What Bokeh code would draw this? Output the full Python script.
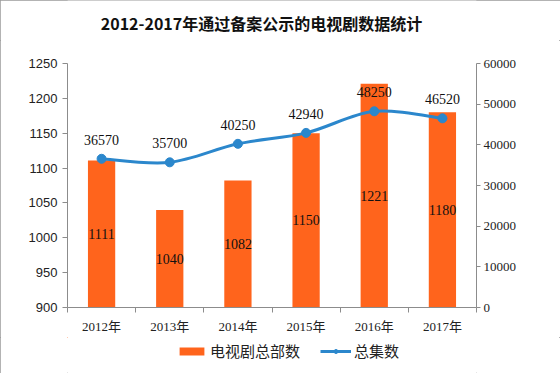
import numpy as np
from bokeh.plotting import figure
from bokeh.layouts import column
from bokeh.models import (Range1d, LinearAxis, FixedTicker, Legend, LegendItem,
                          ColumnDataSource, Label)
from bokeh.core.properties import value
from bokeh.embed import file_html
from bokeh.resources import INLINE

years = ["2012年", "2013年", "2014年", "2015年", "2016年", "2017年"]
series_count = [1111, 1040, 1082, 1150, 1221, 1180]          # 电视剧总部数
series_episodes = [36570, 35700, 40250, 42940, 48250, 46520]  # 总集数
left_ticks = [900, 950, 1000, 1050, 1100, 1150, 1200, 1250]
right_ticks = [0, 10000, 20000, 30000, 40000, 50000, 60000]
title_text = "2012-2017年通过备案公示的电视剧数据统计"
bar_name = "电视剧总部数"
line_name = "总集数"

ORANGE = "#FF641C"
BLUE = "#2B87CC"
AXIS = "#8C8C8C"
SERIF = "Liberation Serif, Noto Sans CJK SC"
CJK = "Noto Sans CJK SC"

n = len(years)
xs = np.arange(n) + 0.5
base = left_ticks[0]


def strip(h):
    f = figure(width=560, height=h, output_backend="svg", toolbar_location=None,
               x_range=Range1d(100, 101), y_range=Range1d(0, 1),
               x_axis_location=None, y_axis_location=None,
               min_border_left=0, min_border_right=0, min_border_top=0, min_border_bottom=0)
    f.grid.visible = False
    f.outline_line_color = None
    f.background_fill_color = "white"
    f.border_fill_color = "white"
    return f


# title strip (its frame is aligned with the main chart's frame, which starts at x=67)
tt = strip(40)
tt.add_layout(Label(x=194, y=18, x_units="screen", y_units="screen", text=title_text,
                    text_align="center", text_baseline="middle", text_font=CJK,
                    text_font_size="16px", text_font_style="bold", text_color="#111111"))

# main chart
p = figure(width=560, height=297, output_backend="svg", toolbar_location=None,
           x_range=Range1d(0, n), y_range=Range1d(left_ticks[0], left_ticks[-1]),
           min_border_left=67, min_border_right=84, min_border_top=23, min_border_bottom=30)
p.extra_y_ranges = {"right": Range1d(right_ticks[0], right_ticks[-1])}
p.outline_line_color = None
p.grid.visible = False
p.background_fill_color = "white"
p.border_fill_color = "white"

# x axis
xa = p.xaxis[0]
xa.ticker = FixedTicker(ticks=list(xs), minor_ticks=list(range(n + 1)))
xa.major_label_overrides = {float(x): y for x, y in zip(xs, years)}
xa.major_tick_out = 0
xa.major_tick_in = 0
xa.minor_tick_out = 5
xa.minor_tick_in = 0
xa.minor_tick_line_color = AXIS
xa.axis_line_color = AXIS
xa.major_label_text_font = SERIF
xa.major_label_text_font_size = "13px"
xa.major_label_text_color = "#222222"
xa.major_label_standoff = 6

# left axis
ya = p.yaxis[0]
ya.ticker = FixedTicker(ticks=left_ticks)
ya.axis_line_color = AXIS
ya.major_tick_line_color = AXIS
ya.major_tick_out = 5
ya.major_tick_in = 0
ya.minor_tick_line_color = None
ya.major_label_text_font = "Liberation Sans"
ya.major_label_text_font_size = "13px"
ya.major_label_text_color = "#222222"
ya.major_label_standoff = 5

# right axis
ra = LinearAxis(y_range_name="right", ticker=FixedTicker(ticks=right_ticks))
ra.axis_line_color = AXIS
ra.major_tick_line_color = AXIS
ra.major_tick_out = 4
ra.major_tick_in = 0
ra.minor_tick_line_color = None
ra.major_label_text_font = SERIF
ra.major_label_text_font_size = "13px"
ra.major_label_text_color = "#222222"
ra.major_label_standoff = 3
p.add_layout(ra, "right")

# bars
bsrc = ColumnDataSource(dict(x=xs, top=series_count,
                             mid=[(v + base) / 2 for v in series_count],
                             lab=[str(v) for v in series_count]))
p.vbar(x="x", top="top", bottom=base, width=0.4, source=bsrc,
       fill_color=ORANGE, line_color=None)
p.text(x="x", y="mid", text="lab", source=bsrc, text_align="center",
       text_baseline="middle", text_font=value(SERIF), text_font_size="14px",
       text_color="#111111")

# smooth line (Catmull-Rom as cubic bezier segments)
ey = np.array(series_episodes, dtype=float)
px = np.concatenate([[xs[0]], xs, [xs[-1]]])
py = np.concatenate([[ey[0]], ey, [ey[-1]]])
t = 1.0 / 6.0
bx0, by0, bx1, by1, c0x, c0y, c1x, c1y = [], [], [], [], [], [], [], []
for i in range(n - 1):
    j = i + 1
    bx0.append(px[j]); by0.append(py[j])
    bx1.append(px[j + 1]); by1.append(py[j + 1])
    c0x.append(px[j] + (px[j + 1] - px[j - 1]) * t)
    c0y.append(py[j] + (py[j + 1] - py[j - 1]) * t)
    c1x.append(px[j + 1] - (px[j + 2] - px[j]) * t)
    c1y.append(py[j + 1] - (py[j + 2] - py[j]) * t)
p.bezier(x0=bx0, y0=by0, x1=bx1, y1=by1, cx0=c0x, cy0=c0y, cx1=c1x, cy1=c1y,
         y_range_name="right", line_color=BLUE, line_width=3)
lsrc = ColumnDataSource(dict(x=xs, y=series_episodes, lab=[str(v) for v in series_episodes]))
p.scatter(x="x", y="y", source=lsrc, y_range_name="right", size=9,
          fill_color=BLUE, line_color=BLUE)
p.text(x="x", y="y", text="lab", source=lsrc, y_range_name="right",
       text_align="center", text_baseline="middle", y_offset=-19,
       text_font=value(SERIF), text_font_size="14px", text_color="#111111")

# legend strip (same series, drawn off-range so only the legend shows)
lg = strip(36)
lb = lg.vbar(x="x", top="top", bottom=base, width=0.4, source=bsrc,
             fill_color=ORANGE, line_color=None)
ll = lg.line(x="x", y="y", source=lsrc, line_color=BLUE, line_width=3)
ls = lg.scatter(x="x", y="y", source=lsrc, size=9, fill_color=BLUE, line_color=BLUE)
legend = Legend(items=[LegendItem(label=bar_name, renderers=[lb]),
                       LegendItem(label=line_name, renderers=[ll, ls])],
                location=(109, 12), orientation="horizontal",
                glyph_width=31, glyph_height=10, label_standoff=3, spacing=20,
                padding=0, margin=0, border_line_color=None, background_fill_alpha=0,
                label_text_font=CJK, label_text_font_size="15px", label_text_color="#222222",
                label_height=18)
lg.add_layout(legend, "center")

layout = column(tt, p, lg, spacing=0,
                styles={"outline": "1px solid #9a9a9a", "outline-offset": "-1px"})

open("out.html", "w").write(file_html(layout, INLINE))
